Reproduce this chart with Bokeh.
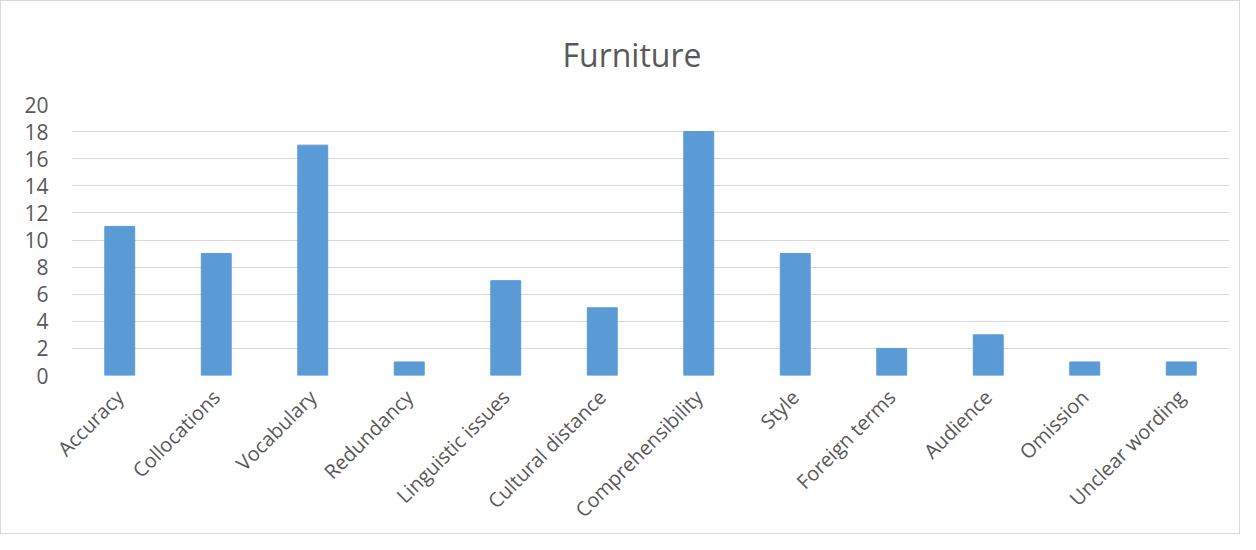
import math
from bokeh.plotting import figure
from bokeh.models import Range1d, FactorRange, Title, FixedTicker
from bokeh.embed import file_html
from bokeh.resources import INLINE

categories = ["Accuracy", "Collocations", "Vocabulary", "Redundancy", "Linguistic issues",
              "Cultural distance", "Comprehensibility", "Style", "Foreign terms", "Audience",
              "Omission", "Unclear wording"]
values = [11, 9, 17, 1, 7, 5, 18, 9, 2, 3, 1, 1]
y_ticks = [0, 2, 4, 6, 8, 10, 12, 14, 16, 18, 20]

FONT = "Open Sans"
TXT = "#595959"

p = figure(x_range=FactorRange(*categories, range_padding=0), y_range=Range1d(0, 20),
           width=1240, height=534, output_backend="svg", toolbar_location=None,
           min_border_left=70, min_border_right=12, min_border_top=103, min_border_bottom=158)

p.vbar(x=categories, top=values, width=0.31, color="#5B9BD5")

t = Title(text="Furniture", align="left", text_font=FONT, text_font_size="32px",
          text_color=TXT, text_font_style="normal", offset=491, standoff=58)
p.add_layout(t, "above")

p.outline_line_color = None
p.xgrid.grid_line_color = None
p.ygrid.grid_line_color = "#d9d9d9"
p.ygrid.grid_line_width = 1

p.yaxis.ticker = FixedTicker(ticks=y_ticks)
p.yaxis.axis_line_color = None
p.yaxis.major_tick_line_color = None
p.yaxis.minor_tick_line_color = None
p.yaxis.major_label_text_font = FONT
p.yaxis.major_label_text_font_size = "21px"
p.yaxis.major_label_text_color = TXT
p.yaxis.major_label_standoff = 17

p.xaxis.axis_line_color = None
p.xaxis.major_tick_line_color = None
p.xaxis.major_label_text_font = FONT
p.xaxis.major_label_text_font_size = "20px"
p.xaxis.major_label_text_color = TXT
p.xaxis.major_label_orientation = math.pi / 4
p.xaxis.major_label_standoff = 12

p.styles = {"border": "1px solid #d9d9d9", "box-sizing": "border-box"}

open("out.html", "w").write(file_html(p, INLINE))
